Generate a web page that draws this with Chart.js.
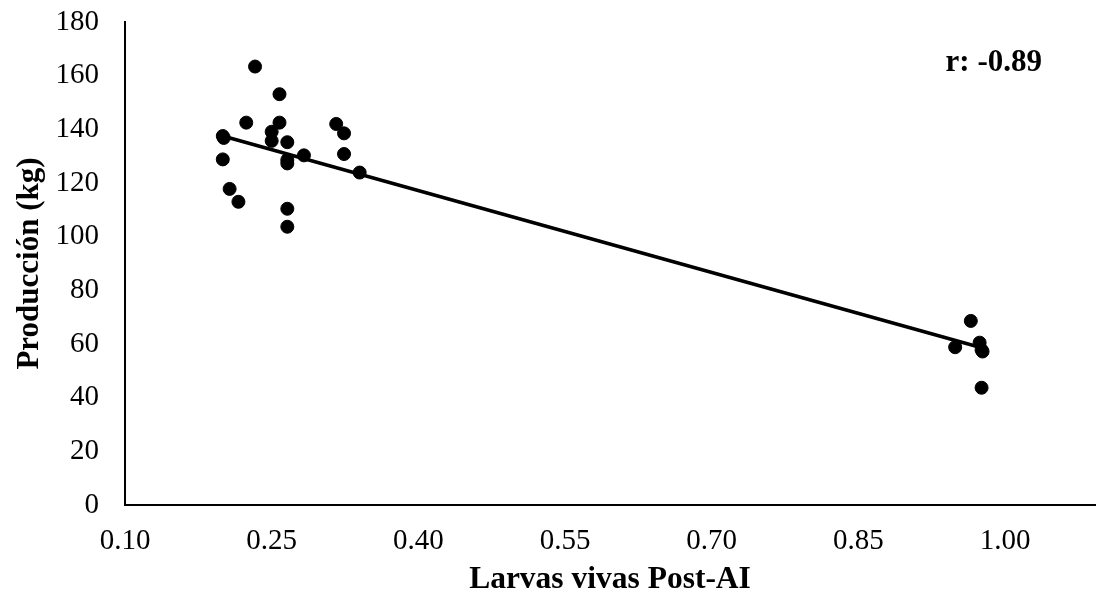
<!DOCTYPE html>
<html>
<head>
<meta charset="utf-8">
<script src="https://cdn.jsdelivr.net/npm/chart.js@4/dist/chart.umd.min.js"></script>
<style>
  html, body { margin: 0; padding: 0; background: #fff; }
  #wrap { width: 1096px; height: 602px; }
</style>
</head>
<body>
<div id="wrap"><canvas id="chart" width="1096" height="602"></canvas></div>
<script>
// values
const larvas = [0.233, 0.258, 0.224, 0.258, 0.316, 0.250, 0.324, 0.200, 0.201, 0.250,
  0.266, 0.283, 0.266, 0.266, 0.324, 0.200, 0.340, 0.207, 0.216, 0.266, 0.266,
  0.965, 0.949, 0.974, 0.976, 0.977, 0.976];
const produccion = [163.4, 153.1, 142.5, 142.5, 142.0, 139.1, 138.5, 137.5, 136.8, 135.7,
  135.2, 130.3, 128.6, 127.3, 130.8, 128.8, 123.9, 117.8, 113.0, 110.4, 103.7,
  68.6, 58.8, 60.5, 57.8, 57.2, 43.7];

// trend line ends (min and max x of the data)
const trendX = [0.200, 0.976];
const trendY = [137.5, 58.6];

const xTicks = [0.10, 0.25, 0.40, 0.55, 0.70, 0.85, 1.00];
const yTicks = [0, 20, 40, 60, 80, 100, 120, 140, 160, 180];
const rLabel = "r: -0.89";

const serif = "'Liberation Serif', 'Times New Roman', serif";

const points = larvas.map((x, i) => ({ x: x, y: produccion[i] }));
const trend = trendX.map((x, i) => ({ x: x, y: trendY[i] }));

// text in the top right corner
const rText = {
  id: "rText",
  afterDraw(chart) {
    const { ctx, chartArea } = chart;
    ctx.save();
    ctx.font = "bold 31px " + serif;
    ctx.fillStyle = "#000";
    ctx.textAlign = "right";
    ctx.textBaseline = "middle";
    ctx.fillText(rLabel, chartArea.right - 53, chartArea.top + 41);
    ctx.restore();
  }
};

new Chart(document.getElementById("chart"), {
  type: "scatter",
  data: {
    datasets: [
      {
        label: "Producción",
        data: points,
        backgroundColor: "#000",
        borderColor: "#000",
        pointRadius: 6.5,
        pointHoverRadius: 6.5,
        order: 2
      },
      {
        label: "Tendencia",
        type: "line",
        data: trend,
        borderColor: "#000",
        borderWidth: 3.5,
        pointRadius: 0,
        fill: false,
        order: 1
      }
    ]
  },
  options: {
    responsive: false,
    animation: false,
    layout: { autoPadding: false, padding: { left: 0, right: 1, top: 0, bottom: 0 } },
    plugins: {
      legend: { display: false },
      tooltip: { enabled: false }
    },
    scales: {
      x: {
        type: "linear",
        min: 0.1,
        max: 1.092,
        afterBuildTicks: s => { s.ticks = xTicks.map(v => ({ value: v })); },
        afterFit: s => {
          s.height = 602 - 505;
          s.paddingLeft = 0;
          s.paddingRight = 0;
        },
        ticks: {
          color: "#000",
          font: { family: serif, size: 29 },
          padding: 19,
          maxRotation: 0,
          callback: v => Number(v).toFixed(2)
        },
        grid: { display: false, drawTicks: false },
        border: { display: true, color: "#000", width: 2 },
        title: {
          display: true,
          text: "Larvas vivas Post-AI",
          color: "#000",
          font: { family: serif, size: 31.5, weight: "bold" },
          padding: { top: 0, bottom: 3 }
        }
      },
      y: {
        min: 0,
        max: 180,
        afterBuildTicks: s => { s.ticks = yTicks.map(v => ({ value: v })); },
        afterFit: s => {
          s.width = 125;
          s.paddingTop = 22;
          s.paddingBottom = 0;
        },
        ticks: {
          color: "#000",
          font: { family: serif, size: 29 },
          padding: 26
        },
        grid: { display: false, drawTicks: false },
        border: { display: true, color: "#000", width: 2 },
        title: {
          display: true,
          text: "Producción (kg)",
          color: "#000",
          font: { family: serif, size: 31, weight: "bold" },
          padding: { top: 11, bottom: 0 }
        }
      }
    }
  },
  plugins: [rText]
});
</script>
</body>
</html>
